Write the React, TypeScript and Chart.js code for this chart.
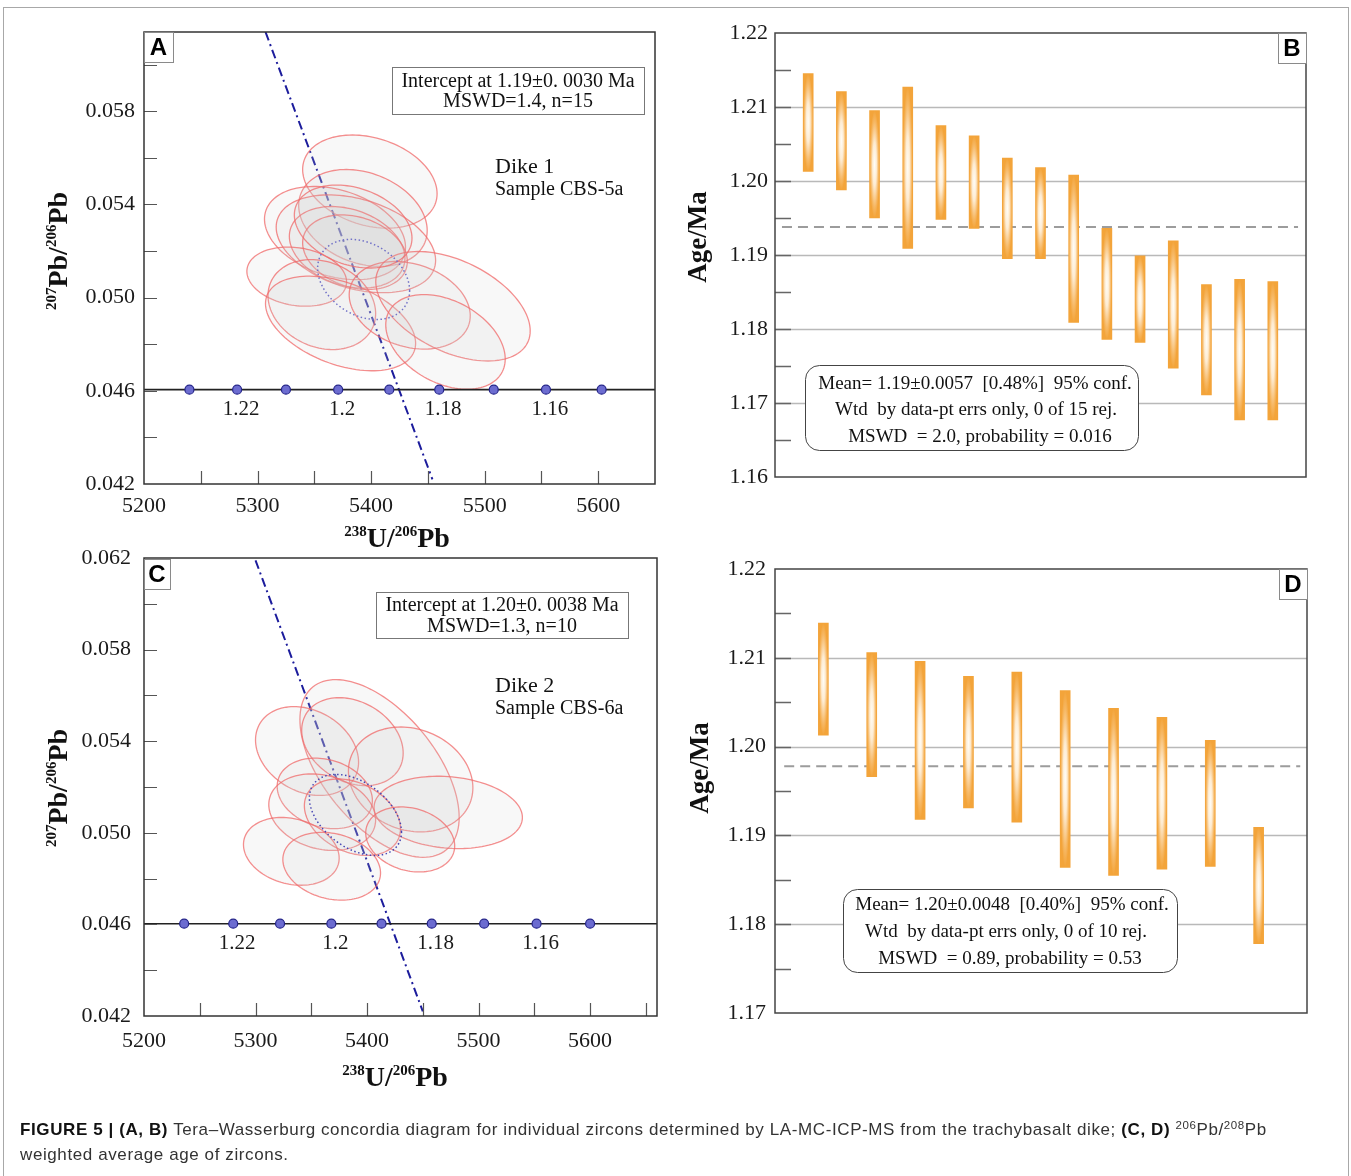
import React, { useEffect, useRef } from "react";
import { Chart, registerables } from "chart.js";

Chart.register(...registerables);

const PAGE_W = 1351;
const PAGE_H = 1176;
const SERIF = '"Liberation Serif", "Times New Roman", Times, serif';
const SANS = '"Liberation Sans", Arial, Helvetica, sans-serif';

/* ================= Panel A : Tera–Wasserburg, Dike 1 (CBS-5a) ================= */
const aXTickLabels = [5200, 5300, 5400, 5500, 5600];
const aYTickLabels = [0.042, 0.046, 0.05, 0.054, 0.058];
const aXMinorTicks = [5250, 5300, 5350, 5400, 5450, 5500, 5550, 5600];
const aYMinorTicks = [0.044, 0.046, 0.048, 0.05, 0.052, 0.054, 0.056, 0.058, 0.06];
const concordiaAges = [1.23, 1.22, 1.21, 1.2, 1.19, 1.18, 1.17, 1.16, 1.15];
const concordiaLabelAges = ["1.22", "1.2", "1.18", "1.16"];
const aConcordiaX = [5240, 5282, 5325, 5371, 5416, 5460, 5508, 5554, 5603];
const aConcordiaY = 0.04605;
const aDiscordiaX = [5307, 5454];
const aDiscordiaY = [0.0614, 0.0422];
const aEllCx = [5398.9, 5392.8, 5368.2, 5386.6, 5378.9, 5385.8, 5334.5, 5356.6, 5373.1, 5434.0, 5472.1, 5465.5, 5384.2];
const aEllCy = [0.05498, 0.05342, 0.05277, 0.05231, 0.05216, 0.05195, 0.0509, 0.0497, 0.04889, 0.04967, 0.04963, 0.0481, 0.05305];
const aEllSx = [59.2, 56.6, 62.1, 70.2, 50.9, 46.1, 43.9, 47.4, 66.1, 53.3, 68.0, 52.6, 51.8];
const aEllSy = [0.002, 0.00208, 0.002, 0.0021, 0.00175, 0.0016, 0.00127, 0.00193, 0.00203, 0.00188, 0.00235, 0.00203, 0.00178];
const aEllRho = [-0.26, -0.26, -0.3, -0.34, -0.27, -0.25, -0.18, -0.2, -0.42, -0.24, -0.45, -0.36, -0.28];
const aMeanEll = { cx: 5393.4, cy: 0.05078, sx: 40.5, sy: 0.00172, rho: -0.28 };

/* ================= Panel C : Tera–Wasserburg, Dike 2 (CBS-6a) ================= */
const cXTickLabels = [5200, 5300, 5400, 5500, 5600];
const cYTickLabels = [0.042, 0.046, 0.05, 0.054, 0.058, 0.062];
const cXMinorTicks = [5250, 5300, 5350, 5400, 5450, 5500, 5550, 5600, 5650];
const cYMinorTicks = [0.044, 0.046, 0.048, 0.05, 0.052, 0.054, 0.056, 0.058, 0.06];
const cConcordiaX = [5236, 5280, 5322, 5368, 5413, 5458, 5505, 5552, 5600];
const cConcordiaY = 0.04603;
const cDiscordiaX = [5300, 5450];
const cDiscordiaY = [0.0619, 0.0422];
const cEllCx = [5411.2, 5346.2, 5386.9, 5439.1, 5472.8, 5362.1, 5359.8, 5386.9, 5332.1, 5368.3, 5438.7];
const cEllCy = [0.05281, 0.05357, 0.05398, 0.05233, 0.05089, 0.05172, 0.0509, 0.05068, 0.04919, 0.04854, 0.04971];
const cEllSx = [71.4, 46.2, 45.5, 55.8, 66.5, 42.7, 47.9, 43.1, 42.9, 43.8, 39.9];
const cEllSy = [0.00388, 0.00194, 0.00192, 0.00229, 0.00158, 0.00154, 0.00167, 0.00167, 0.00148, 0.00148, 0.00142];
const cEllRho = [-0.55, -0.25, -0.26, -0.16, -0.14, -0.2, -0.2, -0.3, -0.2, -0.2, -0.2];
const cMeanEll = { cx: 5389.6, cy: 0.05078, sx: 41.3, sy: 0.00177, rho: -0.42 };

/* ================= Panel B : weighted mean, 15 zircons ================= */
const bIndex = [1, 2, 3, 4, 5, 6, 7, 8, 9, 10, 11, 12, 13, 14, 15];
const bHigh = [1.2145, 1.2121, 1.2095, 1.2127, 1.2075, 1.2061, 1.2031, 1.2018, 1.2008, 1.1936, 1.1899, 1.1919, 1.186, 1.1867, 1.1864];
const bLow = [1.2013, 1.1988, 1.195, 1.1909, 1.1948, 1.1936, 1.1895, 1.1895, 1.1809, 1.1786, 1.1782, 1.1747, 1.1711, 1.1677, 1.1677];
const bMean = 1.1938;
const bMeanSpan = [0.21, 15.76];
const bYTickLabels = [1.16, 1.17, 1.18, 1.19, 1.2, 1.21, 1.22];
const bGridLines = [1.17, 1.18, 1.19, 1.2, 1.21];
const bMinorTicks = [1.165, 1.17, 1.175, 1.18, 1.185, 1.19, 1.195, 1.2, 1.205, 1.21, 1.215];

/* ================= Panel D : weighted mean, 10 zircons ================= */
const dIndex = [1, 2, 3, 4, 5, 6, 7, 8, 9, 10];
const dHigh = [1.2139, 1.2106, 1.2096, 1.2079, 1.2084, 1.2063, 1.2043, 1.2033, 1.2007, 1.1909];
const dLow = [1.2013, 1.1966, 1.1918, 1.1931, 1.1915, 1.1864, 1.1855, 1.1862, 1.1865, 1.1778];
const dMean = 1.1978;
const dMeanSpan = [0.19, 10.86];
const dYTickLabels = [1.17, 1.18, 1.19, 1.2, 1.21, 1.22];
const dGridLines = [1.18, 1.19, 1.2, 1.21];
const dMinorTicks = [1.175, 1.18, 1.185, 1.19, 1.195, 1.2, 1.205, 1.21, 1.215];

/* ================= drawing helpers ================= */
type Area = { l: number; t: number; r: number; b: number };
type Seg = { t: string; sup?: boolean };

function pinLayout(area: Area, axisW: number, axisH: number) {
  return {
    padding: {
      left: area.l - axisW,
      top: area.t,
      right: PAGE_W - area.r,
      bottom: PAGE_H - area.b - axisH,
    },
  };
}

function drawRich(ctx: CanvasRenderingContext2D, segs: Seg[], cx: number, cy: number, size: number, rotate: boolean) {
  ctx.save();
  ctx.translate(cx, cy);
  if (rotate) ctx.rotate(-Math.PI / 2);
  const big = `bold ${size}px ${SERIF}`;
  const small = `bold ${Math.round(size * 0.52)}px ${SERIF}`;
  let w = 0;
  for (const s of segs) {
    ctx.font = s.sup ? small : big;
    w += ctx.measureText(s.t).width;
  }
  let x = -w / 2;
  ctx.textBaseline = "alphabetic";
  ctx.textAlign = "left";
  ctx.fillStyle = "#111";
  const base = size * 0.34;
  for (const s of segs) {
    ctx.font = s.sup ? small : big;
    ctx.fillText(s.t, x, s.sup ? base - size * 0.36 : base);
    x += ctx.measureText(s.t).width;
  }
  ctx.restore();
}

function drawText(ctx: CanvasRenderingContext2D, text: string, x: number, y: number, font: string, align: CanvasTextAlign = "center", color = "#111") {
  ctx.save();
  ctx.font = font;
  ctx.textAlign = align;
  ctx.textBaseline = "middle";
  ctx.fillStyle = color;
  ctx.fillText(text, x, y);
  ctx.restore();
}

function drawLetterBox(ctx: CanvasRenderingContext2D, letter: string, box: number[]) {
  const [x0, y0, x1, y1] = box;
  ctx.save();
  ctx.fillStyle = "#fff";
  ctx.fillRect(x0, y0, x1 - x0, y1 - y0);
  ctx.strokeStyle = "#8a8a8a";
  ctx.lineWidth = 1;
  ctx.strokeRect(x0 + 0.5, y0 + 0.5, x1 - x0, y1 - y0);
  ctx.restore();
  drawText(ctx, letter, (x0 + x1) / 2, (y0 + y1) / 2 + 1, `bold 24px ${SANS}`, "center", "#000");
}

function roundRectPath(ctx: CanvasRenderingContext2D, x0: number, y0: number, x1: number, y1: number, r: number) {
  ctx.beginPath();
  ctx.moveTo(x0 + r, y0);
  ctx.lineTo(x1 - r, y0);
  ctx.arcTo(x1, y0, x1, y0 + r, r);
  ctx.lineTo(x1, y1 - r);
  ctx.arcTo(x1, y1, x1 - r, y1, r);
  ctx.lineTo(x0 + r, y1);
  ctx.arcTo(x0, y1, x0, y1 - r, r);
  ctx.lineTo(x0, y0 + r);
  ctx.arcTo(x0, y0, x0 + r, y0, r);
  ctx.closePath();
}

function ellipsePath(ctx: CanvasRenderingContext2D, xs: any, ys: any, cx: number, cy: number, sx: number, sy: number, rho: number) {
  const k = Math.sqrt(1 - rho * rho);
  const n = 120;
  ctx.beginPath();
  for (let i = 0; i <= n; i++) {
    const t = (i / n) * Math.PI * 2;
    const px = xs.getPixelForValue(cx + sx * Math.cos(t));
    const py = ys.getPixelForValue(cy + sy * (rho * Math.cos(t) + k * Math.sin(t)));
    if (i === 0) ctx.moveTo(px, py);
    else ctx.lineTo(px, py);
  }
  ctx.closePath();
}

function drawFrame(ctx: CanvasRenderingContext2D, chart: any, color: string, width: number) {
  const a = chart.chartArea;
  ctx.save();
  ctx.strokeStyle = color;
  ctx.lineWidth = width;
  ctx.strokeRect(a.left, a.top, a.right - a.left, a.bottom - a.top);
  ctx.restore();
}

function drawInwardTicks(ctx: CanvasRenderingContext2D, chart: any, xVals: number[], yVals: number[], len: number, color: string, width: number) {
  const a = chart.chartArea;
  const xs = chart.scales.x;
  const ys = chart.scales.y;
  ctx.save();
  ctx.strokeStyle = color;
  ctx.lineWidth = width;
  ctx.beginPath();
  for (const v of yVals) {
    const py = Math.round(ys.getPixelForValue(v)) + 0.5;
    ctx.moveTo(a.left, py);
    ctx.lineTo(a.left + len, py);
  }
  for (const v of xVals) {
    const px = Math.round(xs.getPixelForValue(v)) + 0.5;
    ctx.moveTo(px, a.bottom);
    ctx.lineTo(px, a.bottom - len);
  }
  ctx.stroke();
  ctx.restore();
}

/* ================= concordia panel ================= */
type ConcCfg = {
  area: Area;
  xMin: number; xMax: number; yMin: number; yMax: number;
  xLabels: number[]; yLabels: number[]; xMinor: number[]; yMinor: number[];
  concX: number[]; concY: number;
  discX: number[]; discY: number[];
  ell: { cx: number[]; cy: number[]; sx: number[]; sy: number[]; rho: number[] };
  mean: { cx: number; cy: number; sx: number; sy: number; rho: number };
  meanColor: string;
  yPad: number; xPad: number;
  letter: string; letterBox: number[];
  icBox: number[]; icLines: string[]; icY: number[];
  dike: string; sample: string; dikeX: number; dikeY: number; sampleY: number;
  yTitle: number[]; xTitle: number[];
};

function makeConcordia(canvas: HTMLCanvasElement, c: ConcCfg) {
  const tickFont = { family: SERIF, size: 22 };
  const deco = {
    id: "deco",
    afterDatasetDraw(chart: any, args: any) {
      if (args.index !== 0) return;
      const ctx = chart.ctx;
      const a = chart.chartArea;
      const xs = chart.scales.x;
      const ys = chart.scales.y;
      ctx.save();
      ctx.beginPath();
      ctx.rect(a.left, a.top, a.right - a.left, a.bottom - a.top);
      ctx.clip();
      for (let i = 0; i < c.ell.cx.length; i++) {
        ellipsePath(ctx, xs, ys, c.ell.cx[i], c.ell.cy[i], c.ell.sx[i], c.ell.sy[i], c.ell.rho[i]);
        ctx.fillStyle = "rgba(205,205,205,0.14)";
        ctx.fill();
        ctx.strokeStyle = "rgba(240,105,105,0.75)";
        ctx.lineWidth = 1.3;
        ctx.stroke();
      }
      ellipsePath(ctx, xs, ys, c.mean.cx, c.mean.cy, c.mean.sx, c.mean.sy, c.mean.rho);
      ctx.setLineDash([1.5, 2.5]);
      ctx.strokeStyle = c.meanColor;
      ctx.lineWidth = 1.5;
      ctx.stroke();
      ctx.restore();
    },
    afterDraw(chart: any) {
      const ctx = chart.ctx;
      const xs = chart.scales.x;
      const ys = chart.scales.y;
      drawInwardTicks(ctx, chart, c.xMinor, c.yMinor, 13, "#555", 1.2);
      drawFrame(ctx, chart, "#333", 1.5);
      for (const lab of concordiaLabelAges) {
        const idx = concordiaAges.findIndex((v) => Math.abs(v - parseFloat(lab)) < 1e-9);
        const px = xs.getPixelForValue(c.concX[idx]) + 4;
        const py = ys.getPixelForValue(c.concY) + 20;
        drawText(ctx, lab, px, py, `21px ${SERIF}`, "center", "#1a1a1a");
      }
      const [x0, y0, x1, y1] = c.icBox;
      ctx.save();
      ctx.fillStyle = "#fff";
      ctx.fillRect(x0, y0, x1 - x0, y1 - y0);
      ctx.strokeStyle = "#777";
      ctx.lineWidth = 1;
      ctx.strokeRect(x0 + 0.5, y0 + 0.5, x1 - x0, y1 - y0);
      ctx.restore();
      c.icLines.forEach((s, i) => drawText(ctx, s, (x0 + x1) / 2, c.icY[i], `20px ${SERIF}`));
      drawText(ctx, c.dike, c.dikeX, c.dikeY, `22px ${SERIF}`, "left");
      drawText(ctx, c.sample, c.dikeX, c.sampleY, `20px ${SERIF}`, "left");
      drawLetterBox(ctx, c.letter, c.letterBox);
      drawRich(ctx, [{ t: "207", sup: true }, { t: "Pb/" }, { t: "206", sup: true }, { t: "Pb" }], c.yTitle[0], c.yTitle[1], 28, true);
      drawRich(ctx, [{ t: "238", sup: true }, { t: "U/" }, { t: "206", sup: true }, { t: "Pb" }], c.xTitle[0], c.xTitle[1], 28, false);
    },
  };

  return new Chart(canvas, {
    type: "scatter",
    data: {
      datasets: [
        {
          data: c.discX.map((x, i) => ({ x, y: c.discY[i] })),
          showLine: true,
          borderColor: "#1c1c9c",
          borderWidth: 2,
          borderDash: [9, 4, 2, 4],
          pointRadius: 0,
          order: 3,
        },
        {
          data: [{ x: c.xMin, y: c.concY }, { x: c.xMax, y: c.concY }],
          showLine: true,
          borderColor: "#222",
          borderWidth: 1.6,
          pointRadius: 0,
          order: 2,
        },
        {
          data: c.concX.map((x) => ({ x, y: c.concY })),
          pointRadius: 4.5,
          pointBackgroundColor: "#6c6cd0",
          pointBorderColor: "#25258a",
          pointBorderWidth: 1.2,
          order: 1,
        },
      ],
    } as any,
    options: {
      animation: false,
      responsive: false,
      events: [],
      layout: pinLayout(c.area, 80, 60),
      scales: {
        x: {
          type: "linear",
          bounds: "data",
          min: c.xMin,
          max: c.xMax,
          afterFit: (s: any) => { s.height = 60; },
          afterBuildTicks: (s: any) => { s.ticks = c.xLabels.map((v) => ({ value: v })); },
          ticks: { font: tickFont, color: "#1a1a1a", padding: c.xPad, maxRotation: 0, autoSkip: false, callback: (v: any) => String(v) },
          grid: { display: false, drawTicks: false },
          border: { display: false },
        },
        y: {
          type: "linear",
          bounds: "data",
          min: c.yMin,
          max: c.yMax,
          afterFit: (s: any) => { s.width = 80; },
          afterBuildTicks: (s: any) => { s.ticks = c.yLabels.map((v) => ({ value: v })); },
          ticks: { font: tickFont, color: "#1a1a1a", padding: c.yPad, autoSkip: false, callback: (v: any) => Number(v).toFixed(3) },
          grid: { display: false, drawTicks: false },
          border: { display: false },
        },
      },
      plugins: { legend: { display: false }, tooltip: { enabled: false } },
    } as any,
    plugins: [deco],
  });
}

/* ================= weighted-average age panel ================= */
type AgeCfg = {
  area: Area;
  xMax: number; yMin: number; yMax: number;
  idx: number[]; lo: number[]; hi: number[];
  mean: number; meanSpan: number[];
  yLabels: number[]; grid: number[]; minor: number[];
  yPad: number;
  letter: string; letterBox: number[];
  box: number[]; lines: string[]; lineX: number[]; lineY: number[];
  title: number[];
};

function makeAge(canvas: HTMLCanvasElement, c: AgeCfg) {
  const deco = {
    id: "decoAge",
    beforeDatasetsDraw(chart: any) {
      const ctx = chart.ctx;
      const a = chart.chartArea;
      const ys = chart.scales.y;
      ctx.save();
      ctx.strokeStyle = "#b9b9b9";
      ctx.lineWidth = 1.5;
      ctx.beginPath();
      for (const v of c.grid) {
        const py = Math.round(ys.getPixelForValue(v)) + 0.5;
        ctx.moveTo(a.left, py);
        ctx.lineTo(a.right, py);
      }
      ctx.stroke();
      ctx.restore();
    },
    afterDatasetsDraw(chart: any) {
      const ctx = chart.ctx;
      const meta = chart.getDatasetMeta(0);
      meta.data.forEach((el: any) => {
        const p = el.getProps(["x", "y", "base", "width"], true);
        const top = Math.min(p.y, p.base);
        const h = Math.abs(p.base - p.y);
        const w = p.width;
        ctx.save();
        ctx.beginPath();
        ctx.rect(p.x - w / 2, top, w, h);
        ctx.clip();
        ctx.translate(p.x, top + h / 2);
        ctx.scale(1, h / w);
        const g = ctx.createRadialGradient(0, 0, 0, 0, 0, w / 2);
        g.addColorStop(0, "rgba(255,253,248,1)");
        g.addColorStop(0.4, "rgba(255,246,232,0.88)");
        g.addColorStop(0.8, "rgba(255,240,220,0.25)");
        g.addColorStop(1, "rgba(255,240,220,0)");
        ctx.fillStyle = g;
        ctx.fillRect(-w / 2, -w / 2, w, w);
        ctx.restore();
      });
    },
    afterDraw(chart: any) {
      const ctx = chart.ctx;
      drawInwardTicks(ctx, chart, [], c.minor, 16, "#666", 1.5);
      drawFrame(ctx, chart, "#444", 1.5);
      const [x0, y0, x1, y1] = c.box;
      ctx.save();
      roundRectPath(ctx, x0 + 0.5, y0 + 0.5, x1 + 0.5, y1 + 0.5, 14);
      ctx.fillStyle = "#fff";
      ctx.fill();
      ctx.strokeStyle = "#444";
      ctx.lineWidth = 1;
      ctx.stroke();
      ctx.restore();
      c.lines.forEach((s, i) => drawText(ctx, s, c.lineX[i], c.lineY[i], `19px ${SERIF}`));
      drawLetterBox(ctx, c.letter, c.letterBox);
      drawRich(ctx, [{ t: "Age/Ma" }], c.title[0], c.title[1], 27, true);
    },
  };

  return new Chart(canvas, {
    type: "bar",
    data: {
      datasets: [
        {
          type: "bar",
          data: c.idx.map((x, i) => ({ x, y: [c.lo[i], c.hi[i]] })),
          backgroundColor: "#F3A43A",
          borderWidth: 0,
          borderSkipped: false,
          barThickness: 10,
          order: 1,
        },
        {
          type: "line",
          data: c.meanSpan.map((x) => ({ x, y: c.mean })),
          borderColor: "#9c9c9c",
          borderWidth: 2,
          borderDash: [10, 6],
          pointRadius: 0,
          order: 2,
        },
      ],
    } as any,
    options: {
      animation: false,
      responsive: false,
      events: [],
      layout: pinLayout(c.area, 80, 0),
      scales: {
        x: { type: "linear", min: 0, max: c.xMax, display: false, offset: false },
        y: {
          type: "linear",
          bounds: "data",
          min: c.yMin,
          max: c.yMax,
          afterFit: (s: any) => { s.width = 80; },
          afterBuildTicks: (s: any) => { s.ticks = c.yLabels.map((v) => ({ value: v })); },
          ticks: { font: { family: SERIF, size: 22 }, color: "#1a1a1a", padding: c.yPad, autoSkip: false, callback: (v: any) => Number(v).toFixed(2) },
          grid: { display: false, drawTicks: false },
          border: { display: false },
        },
      },
      plugins: { legend: { display: false }, tooltip: { enabled: false } },
    } as any,
    plugins: [deco],
  });
}

/* ================= panel configurations ================= */
const panelA: ConcCfg = {
  area: { l: 144, t: 32, r: 655, b: 484 },
  xMin: 5200, xMax: 5650, yMin: 0.042, yMax: 0.0614,
  xLabels: aXTickLabels, yLabels: aYTickLabels, xMinor: aXMinorTicks, yMinor: aYMinorTicks,
  concX: aConcordiaX, concY: aConcordiaY,
  discX: aDiscordiaX, discY: aDiscordiaY,
  ell: { cx: aEllCx, cy: aEllCy, sx: aEllSx, sy: aEllSy, rho: aEllRho },
  mean: aMeanEll, meanColor: "#7272c8",
  yPad: 9, xPad: 9,
  letter: "A", letterBox: [144, 32, 173, 62],
  icBox: [392, 67, 644, 114], icLines: ["Intercept at 1.19±0. 0030 Ma", "MSWD=1.4, n=15"], icY: [82, 102],
  dike: "Dike 1", sample: "Sample CBS-5a", dikeX: 495, dikeY: 167, sampleY: 190,
  yTitle: [57, 251], xTitle: [397, 537],
};

const panelC: ConcCfg = {
  area: { l: 144, t: 558, r: 657, b: 1016 },
  xMin: 5200, xMax: 5660, yMin: 0.042, yMax: 0.062,
  xLabels: cXTickLabels, yLabels: cYTickLabels, xMinor: cXMinorTicks, yMinor: cYMinorTicks,
  concX: cConcordiaX, concY: cConcordiaY,
  discX: cDiscordiaX, discY: cDiscordiaY,
  ell: { cx: cEllCx, cy: cEllCy, sx: cEllSx, sy: cEllSy, rho: cEllRho },
  mean: cMeanEll, meanColor: "#4646b4",
  yPad: 13, xPad: 12,
  letter: "C", letterBox: [144, 559, 170, 589],
  icBox: [376, 592, 628, 638], icLines: ["Intercept at 1.20±0. 0038 Ma", "MSWD=1.3, n=10"], icY: [606, 627],
  dike: "Dike 2", sample: "Sample CBS-6a", dikeX: 495, dikeY: 686, sampleY: 709,
  yTitle: [57, 788], xTitle: [395, 1076],
};

const panelB: AgeCfg = {
  area: { l: 775, t: 33, r: 1306, b: 477 },
  xMax: 16, yMin: 1.16, yMax: 1.22,
  idx: bIndex, lo: bLow, hi: bHigh,
  mean: bMean, meanSpan: bMeanSpan,
  yLabels: bYTickLabels, grid: bGridLines, minor: bMinorTicks,
  yPad: 7,
  letter: "B", letterBox: [1278, 33, 1306, 63],
  box: [805, 365, 1138, 450],
  lines: ["Mean= 1.19±0.0057  [0.48%]  95% conf.", "Wtd  by data-pt errs only, 0 of 15 rej.", "MSWD  = 2.0, probability = 0.016"],
  lineX: [975, 976, 980], lineY: [384, 410, 437],
  title: [697, 237],
};

const panelD: AgeCfg = {
  area: { l: 775, t: 569, r: 1307, b: 1013 },
  xMax: 11, yMin: 1.17, yMax: 1.22,
  idx: dIndex, lo: dLow, hi: dHigh,
  mean: dMean, meanSpan: dMeanSpan,
  yLabels: dYTickLabels, grid: dGridLines, minor: dMinorTicks,
  yPad: 9,
  letter: "D", letterBox: [1279, 569, 1307, 599],
  box: [843, 889, 1177, 972],
  lines: ["Mean= 1.20±0.0048  [0.40%]  95% conf.", "Wtd  by data-pt errs only, 0 of 10 rej.", "MSWD  = 0.89, probability = 0.53"],
  lineX: [1012, 1006, 1010], lineY: [905, 932, 959],
  title: [699, 768],
};

/* ================= React ================= */
function ChartLayer({ make }: { make: (c: HTMLCanvasElement) => Chart }) {
  const ref = useRef<HTMLCanvasElement | null>(null);
  useEffect(() => {
    if (!ref.current) return;
    const chart = make(ref.current);
    return () => chart.destroy();
  }, [make]);
  return (
    <canvas
      ref={ref}
      width={PAGE_W}
      height={PAGE_H}
      style={{ position: "absolute", left: 0, top: 0, width: PAGE_W, height: PAGE_H }}
    />
  );
}

const makeA = (cv: HTMLCanvasElement) => makeConcordia(cv, panelA);
const makeC = (cv: HTMLCanvasElement) => makeConcordia(cv, panelC);
const makeB = (cv: HTMLCanvasElement) => makeAge(cv, panelB);
const makeD = (cv: HTMLCanvasElement) => makeAge(cv, panelD);

const supStyle: React.CSSProperties = { fontSize: 11.5, verticalAlign: "6px", lineHeight: 0 };

export default function App() {
  return (
    <div style={{ position: "absolute", left: 0, top: 0, width: PAGE_W, height: PAGE_H, background: "#fff", overflow: "hidden" }}>
      <div style={{ position: "absolute", left: 3, top: 7, width: 1344, height: 1200, border: "1px solid #a8a8a8" }} />
      <ChartLayer make={makeA} />
      <ChartLayer make={makeB} />
      <ChartLayer make={makeC} />
      <ChartLayer make={makeD} />
      <div
        style={{
          position: "absolute",
          left: 20,
          top: 1117,
          whiteSpace: "nowrap",
          fontFamily: SANS,
          fontSize: 17,
          letterSpacing: "0.6px",
          lineHeight: "25px",
          color: "#333",
        }}
      >
        <b style={{ color: "#111" }}>FIGURE 5 | (A, B)</b> Tera–Wasserburg concordia diagram for individual zircons determined by LA-MC-ICP-MS from the trachybasalt dike; <b style={{ color: "#111" }}>(C, D)</b>{" "}
        <sup style={supStyle}>206</sup>Pb/<sup style={supStyle}>208</sup>Pb
        <br />
        weighted average age of zircons.
      </div>
    </div>
  );
}
